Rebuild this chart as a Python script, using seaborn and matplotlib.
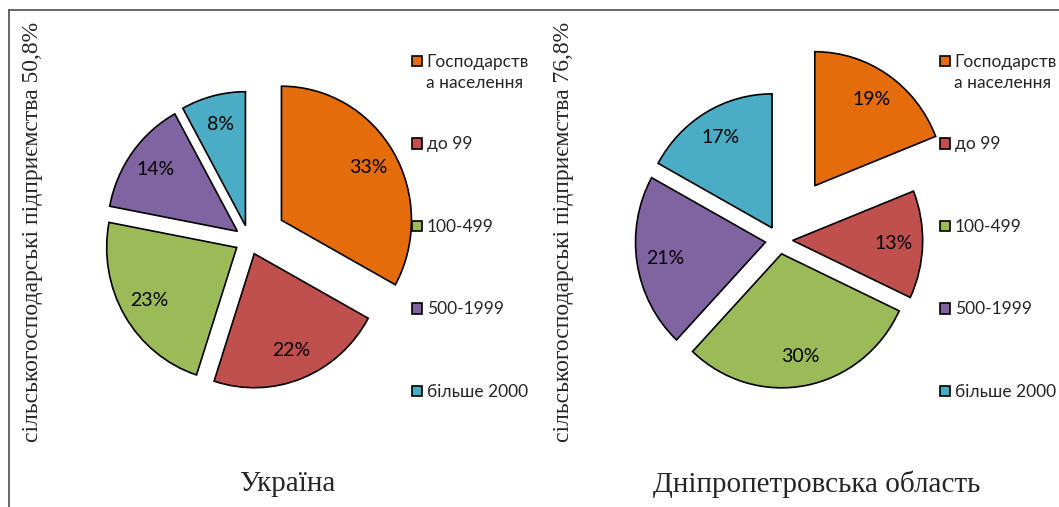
import matplotlib
matplotlib.use('Agg')
import matplotlib.pyplot as plt
import seaborn as sns
from matplotlib.lines import Line2D

# data
categories = ['Господарства населення', 'до 99', '100-499', '500-1999', 'більше 2000']
legend_labels = ['Господарств', 'до 99', '100-499', '500-1999', 'більше 2000']
ukraine_share = [33, 22, 23, 14, 8]
dnipro_share = [19, 13, 30, 21, 17]
ukraine_side = 'сільськогосподарські підприємства 50,8%'
dnipro_side = 'сільськогосподарські підприємства 76,8%'
titles = ['Україна', 'Дніпропетровська область']

sns.set_theme(style='white')
plt.rcParams['font.family'] = ['Lato', 'DejaVu Sans']
colors = ['#E46C0A', '#C0504D', '#9BBB59', '#8064A2', '#4BACC6']

W, H = 1059, 507
fig = plt.figure(figsize=(W / 100, H / 100), dpi=100)


def draw_pie(x0, x1, cx, cy, values, explode, side_text, title, side_x, leg_x):
    # axes spanning pixel columns x0..x1, full height
    ax = fig.add_axes([x0 / W, 0, (x1 - x0) / W, 1])
    wedges, texts, autotexts = ax.pie(
        values, colors=colors, startangle=90, counterclock=False,
        explode=explode, autopct='%1.0f%%', pctdistance=0.78,
        wedgeprops=dict(edgecolor='black', linewidth=1.2),
        textprops=dict(fontsize=14, color='black'))
    ax.set_aspect('auto')
    rx, ry = 130, 134
    ax.set_xlim((x0 - cx) / rx, (x1 - cx) / rx)
    ax.set_ylim((cy - H) / ry, cy / ry)
    ax.axis('off')

    ax.legend(wedges, legend_labels, loc='upper left',
              bbox_to_anchor=(leg_x / W, 1 - 54 / H), bbox_transform=fig.transFigure,
              frameon=False, fontsize=12.5, handlelength=0.55, handleheight=0.55,
              handletextpad=0.3, labelspacing=3.83, borderpad=0, borderaxespad=0)
    fig.text((leg_x + 14) / W, 1 - 83 / H, 'а населення', fontsize=12.5,
             ha='left', va='center')

    fig.text(side_x / W, 1 - 232 / H, side_text, rotation=90, ha='center', va='center',
             fontsize=17, family='Liberation Serif')
    fig.text((cx + 38) / W, 1 - 484 / H, title, ha='center', va='center',
             fontsize=21, family='Liberation Serif')


draw_pie(10, 530, 249, 240, ukraine_share, [0.29, 0.11, 0.11, 0.11, 0.11],
         ukraine_side, titles[0], 33, 412)
draw_pie(530, 1059, 779, 240, dnipro_share, [0.49, 0.105, 0.105, 0.105, 0.105],
         dnipro_side, titles[1], 563, 940)

# outer frame lines (top and left)
fig.add_artist(Line2D([9 / W, 1], [1 - 9.5 / H, 1 - 9.5 / H], transform=fig.transFigure,
                      color='#5a5a5a', linewidth=1.3))
fig.add_artist(Line2D([9 / W, 9 / W], [0, 1 - 9.5 / H], transform=fig.transFigure,
                      color='#5a5a5a', linewidth=1.3))

fig.savefig('out.png', dpi=100)
